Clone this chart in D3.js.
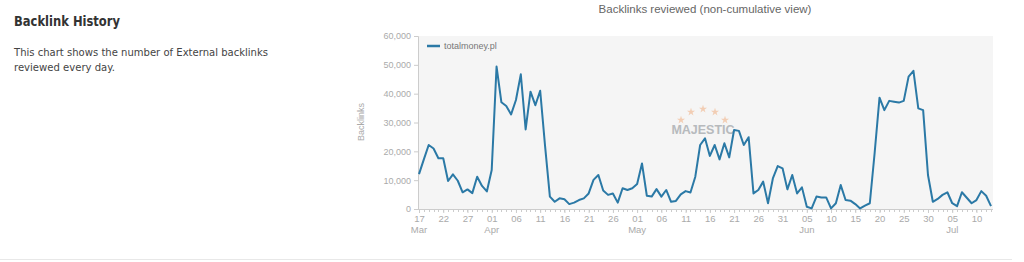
<!DOCTYPE html>
<html><head><meta charset="utf-8">
<script src="https://cdn.jsdelivr.net/npm/d3@7"></script>
<style>
body{margin:0;background:#fff;}
svg{display:block;}
</style></head>
<body><svg id="c" width="1024" height="262"></svg>
<script>
const seriesName = "totalmoney.pl";
const startDate = "2015-03-17";
const backlinks = [
12100,17200,22200,21000,17600,17600,9700,12000,9800,5800,6800,5500,11200,8000,6100,
13500,49400,37000,35700,32800,37800,46700,27600,40700,36000,41000,22000,4300,2500,3700,
3400,1700,2200,3100,3700,5400,10100,11800,6400,4900,5400,2200,7200,6600,7200,8700,
15800,4600,4300,6900,4300,6600,2500,2800,5100,6200,5700,11200,22200,24500,18400,22200,17200,22800,17900,27400,27100,22200,24900,5400,6600,9500,2000,10600,14900,14100,
6800,11800,5400,7500,800,200,4300,4000,4000,200,2000,8300,3100,2900,1700,200,1200,2000,19500,38600,34300,37500,37200,36900,37500,45900,47900,34900,34300,11800,
2500,3500,4900,5800,2000,1000,5800,3900,2000,3100,6200,4600,1000
];
const yTicks = [0,10000,20000,30000,40000,50000,60000];
const chartTitle = "Backlinks reviewed (non-cumulative view)";
const yLabel = "Backlinks";
const pageTitle = "Backlink History";
const desc = ["This chart shows the number of External backlinks","reviewed every day."];

const svg = d3.select("#c");
const parse = d3.timeParse("%Y-%m-%d");
const d0 = parse(startDate);
const data = backlinks.map((v,i)=>({date:d3.timeDay.offset(d0,i), value:v}));

// left text block
svg.append("text").attr("x",14).attr("y",26).text(pageTitle)
  .attr("font-family","DejaVu Sans, Verdana, sans-serif").attr("font-weight","bold")
  .attr("font-size",14).attr("fill","#333")
  .attr("textLength",106).attr("lengthAdjust","spacingAndGlyphs");
const descW = [254,101];
svg.selectAll("text.desc").data(desc).join("text").attr("class","desc")
  .attr("x",14).attr("y",(d,i)=>56+i*15).text(d=>d)
  .attr("font-family","DejaVu Sans, Verdana, sans-serif").attr("font-size",11).attr("fill","#444")
  .attr("textLength",(d,i)=>descW[i]).attr("lengthAdjust","spacingAndGlyphs");

// bottom separator
svg.append("line").attr("x1",0).attr("x2",1012).attr("y1",259.5).attr("y2",259.5).attr("stroke","#e8e8e8");

const m = {left:418, right:993, top:36, bottom:209};
const x = d3.scaleTime().domain([data[0].date, data[data.length-1].date]).range([m.left+1, 991]);
const y = d3.scaleLinear().domain([0,60000]).range([m.bottom, m.top]);

svg.append("rect").attr("x",m.left).attr("y",m.top).attr("width",m.right-m.left).attr("height",m.bottom-m.top).attr("fill","#f5f5f5");

const font = "Liberation Sans, Arial, sans-serif";
svg.append("text").attr("x",705).attr("y",13).attr("text-anchor","middle").text(chartTitle)
  .attr("font-family",font).attr("font-size",11.5).attr("fill","#666");

svg.append("text").attr("transform","translate(364,122) rotate(-90)").attr("text-anchor","middle")
  .text(yLabel).attr("font-family",font).attr("font-size",9).attr("fill","#aaa");

// y axis
const ya = svg.append("g").attr("transform",`translate(${m.left},0)`)
  .call(d3.axisLeft(y).tickValues(yTicks).tickFormat(d3.format(",")).tickSize(4).tickPadding(3));
ya.select(".domain").attr("stroke","#ccc");
ya.selectAll(".tick line").attr("stroke","#ccc");
ya.selectAll("text").attr("font-family",font).attr("font-size",9).attr("fill","#aaa");

// x axis minor ticks
const allDays = data.map(d=>d.date);
const xa = svg.append("g").attr("transform",`translate(0,${m.bottom})`);
xa.append("line").attr("x1",m.left).attr("x2",m.right).attr("y1",0.5).attr("y2",0.5).attr("stroke","#ccc");
xa.selectAll("line.minor").data(allDays).join("line").attr("class","minor")
  .attr("x1",d=>Math.round(x(d))+0.5).attr("x2",d=>Math.round(x(d))+0.5).attr("y1",0).attr("y2",3).attr("stroke","#ccc");
const majors = allDays.filter((d,i)=>i%5===0);
const bx = svg.append("g").attr("transform",`translate(0,${m.bottom})`)
  .call(d3.axisBottom(x).tickValues(majors).tickFormat(d3.timeFormat("%d")).tickSize(4).tickPadding(2));
bx.select(".domain").remove();
bx.selectAll(".tick line").attr("stroke","#ccc");
bx.selectAll("text").attr("font-family",font).attr("font-size",9.5).attr("fill","#aaa");
let prevMonth = -1;
majors.forEach(d=>{
  if(d.getMonth()!==prevMonth){
    prevMonth = d.getMonth();
    svg.append("text").attr("x",x(d)).attr("y",m.bottom+17).attr("dy","0.71em").attr("text-anchor","middle")
      .text(d3.timeFormat("%b")(d)).attr("font-family",font).attr("font-size",9.5).attr("fill","#aaa");
  }
});

// watermark
const wm = svg.append("g").attr("opacity",0.8);
wm.append("text").attr("x",703).attr("y",134).attr("text-anchor","middle").text("MAJESTIC")
  .attr("font-family",font).attr("font-weight","bold").attr("font-size",12.5).attr("fill","#a8acb0");
const starPos = [[-22,13],[-12,5],[0,2],[12,5],[22,13]];
wm.selectAll("path.star").data(starPos).join("path").attr("class","star")
  .attr("d",d3.symbol(d3.symbolStar,20))
  .attr("transform",d=>`translate(${703+d[0]},${107+d[1]})`).attr("fill","#f2c4a4");

// line
svg.append("path").datum(data).attr("fill","none").attr("stroke","#2b79a6").attr("stroke-width",2)
  .attr("stroke-linejoin","round")
  .attr("d",d3.line().x(d=>x(d.date)).y(d=>y(d.value)));

// legend
svg.append("line").attr("x1",427).attr("x2",440).attr("y1",46).attr("y2",46).attr("stroke","#2b79a6").attr("stroke-width",2.5);
svg.append("text").attr("x",444).attr("y",49).text(seriesName).attr("font-family",font).attr("font-size",9).attr("fill","#777");
</script></body></html>
